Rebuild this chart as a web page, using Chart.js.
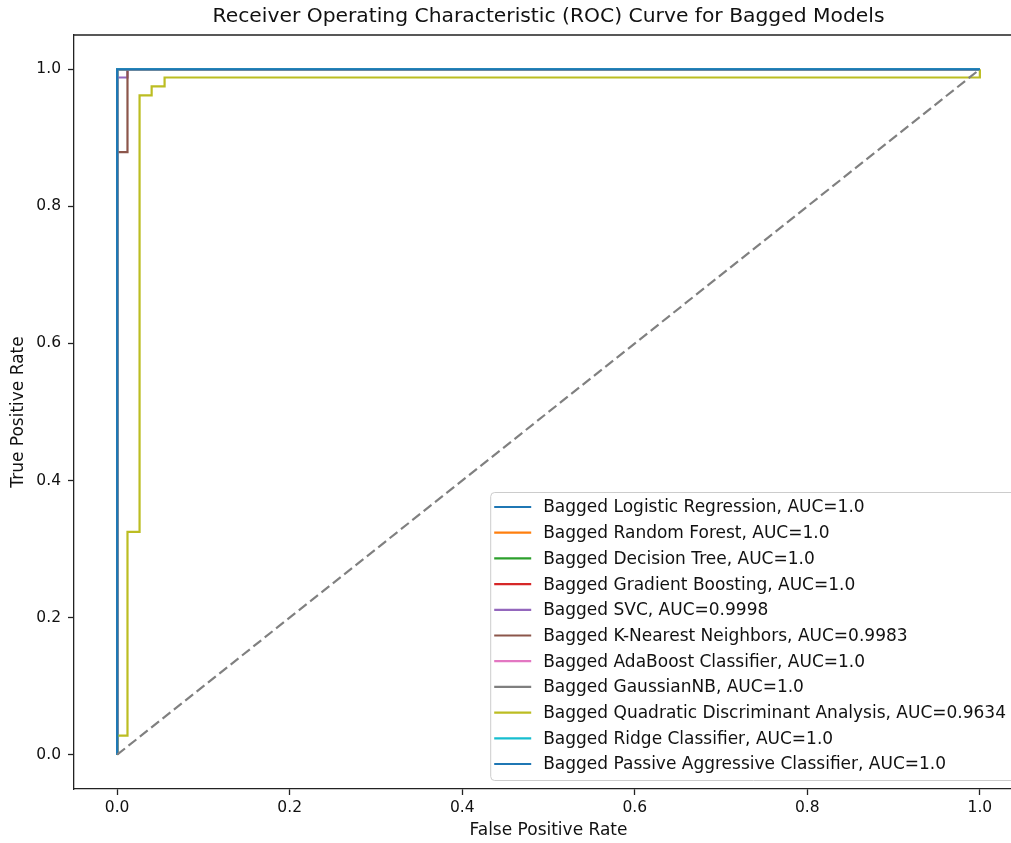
<!DOCTYPE html>
<html>
<head>
<meta charset="utf-8">
<title>ROC Curve for Bagged Models</title>
<script src="https://cdn.jsdelivr.net/npm/chart.js@4.4.0/dist/chart.umd.min.js"></script>
<style>
  html, body { margin: 0; padding: 0; background: #fff; overflow: hidden; }
  #roc { display: block; }
</style>
</head>
<body>
<canvas id="roc" width="1060" height="843"></canvas>
<script>
// ---------- data ----------
const chartTitle = 'Receiver Operating Characteristic (ROC) Curve for Bagged Models';
const xLabel = 'False Positive Rate';
const yLabel = 'True Positive Rate';

const modelNames = [
    'Bagged Logistic Regression',
    'Bagged Random Forest',
    'Bagged Decision Tree',
    'Bagged Gradient Boosting',
    'Bagged SVC',
    'Bagged K-Nearest Neighbors',
    'Bagged AdaBoost Classifier',
    'Bagged GaussianNB',
    'Bagged Quadratic Discriminant Analysis',
    'Bagged Ridge Classifier',
    'Bagged Passive Aggressive Classifier'
];
const aucValues = ['1.0', '1.0', '1.0', '1.0', '0.9998', '0.9983', '1.0', '1.0', '0.9634', '1.0', '1.0'];
const lineColors = ['#1f77b4', '#ff7f0e', '#2ca02c', '#d62728', '#9467bd', '#8c564b',
                    '#e377c2', '#7f7f7f', '#bcbd22', '#17becf', '#1f77b4'];

// ROC points (fpr, tpr)
const fprPerfect = [0, 0, 1];
const tprPerfect = [0, 1, 1];
const fprSvc = [0, 0, 0.012, 0.012, 1];
const tprSvc = [0, 0.988, 0.988, 1, 1];
const fprKnn = [0, 0, 0.012, 0.012, 1];
const tprKnn = [0, 0.879, 0.879, 1, 1];
const fprQda = [0, 0, 0.012, 0.012, 0.026, 0.026, 0.040, 0.040, 0.055, 0.055, 1, 1];
const tprQda = [0, 0.028, 0.028, 0.325, 0.325, 0.962, 0.962, 0.975, 0.975, 0.988, 0.988, 1];
// which curve belongs to which model
const modelCurves = [
    [fprPerfect, tprPerfect], [fprPerfect, tprPerfect], [fprPerfect, tprPerfect], [fprPerfect, tprPerfect],
    [fprSvc, tprSvc], [fprKnn, tprKnn], [fprPerfect, tprPerfect], [fprPerfect, tprPerfect],
    [fprQda, tprQda], [fprPerfect, tprPerfect], [fprPerfect, tprPerfect]
];
const diagX = [0, 1];
const diagY = [0, 1];

const xTickValues = [0, 0.2, 0.4, 0.6, 0.8, 1.0];
const yTickValues = [0, 0.2, 0.4, 0.6, 0.8, 1.0];

// ---------- build datasets ----------
function toPoints(xs, ys) {
    return xs.map((x, i) => ({ x: x, y: ys[i] }));
}

const datasets = modelNames.map((name, i) => ({
    label: name + ', AUC=' + aucValues[i],
    data: toPoints(modelCurves[i][0], modelCurves[i][1]),
    borderColor: lineColors[i],
    backgroundColor: lineColors[i],
    borderWidth: 2.2,
    showLine: true,
    pointRadius: 0,
    tension: 0,
    order: 100 - i   // matplotlib style: later lines on top
}));
datasets.push({
    label: '',
    data: toPoints(diagX, diagY),
    borderColor: '#808080',
    borderWidth: 2.2,
    borderDash: [10, 4.5],
    showLine: true,
    pointRadius: 0,
    order: 0,
    inLegend: false
});

// ---------- plugin: top/right frame, title, legend ----------
const FONT = '"DejaVu Sans", sans-serif';

const extras = {
    id: 'extras',
    afterDraw(chart) {
        const ctx = chart.ctx;
        const a = chart.chartArea;
        ctx.save();

        // top + right spines
        ctx.strokeStyle = '#222';
        ctx.lineWidth = 1.3;
        ctx.beginPath();
        ctx.moveTo(a.left, a.top);
        ctx.lineTo(a.right, a.top);
        ctx.lineTo(a.right, a.bottom);
        ctx.stroke();

        // title
        ctx.fillStyle = '#111';
        ctx.font = '20.3px ' + FONT;
        ctx.textAlign = 'center';
        ctx.textBaseline = 'middle';
        ctx.fillText(chartTitle, (a.left + a.right) / 2, 17);

        // legend box (lower right)
        const items = chart.data.datasets.filter(d => d.inLegend !== false);
        ctx.font = '17px ' + FONT;
        let maxW = 0;
        items.forEach(d => { maxW = Math.max(maxW, ctx.measureText(d.label).width); });
        const rowH = 25.7;
        const boxR = a.right - 7;
        const boxB = a.bottom - 9;
        const boxW = maxW + 54 + 9;
        const boxH = 15 + rowH * (items.length - 1) + 16;
        const boxL = boxR - boxW;
        const boxT = boxB - boxH;

        ctx.fillStyle = 'rgba(255,255,255,0.8)';
        ctx.strokeStyle = '#cccccc';
        ctx.lineWidth = 1;
        ctx.beginPath();
        ctx.roundRect(boxL + 0.5, boxT + 0.5, boxW, boxH, 4);
        ctx.fill();
        ctx.stroke();

        ctx.textAlign = 'left';
        items.forEach((d, i) => {
            const y = boxT + 15 + i * rowH;
            ctx.strokeStyle = d.borderColor;
            ctx.lineWidth = 2.2;
            ctx.beginPath();
            ctx.moveTo(boxL + 4, y);
            ctx.lineTo(boxL + 41, y);
            ctx.stroke();
            ctx.fillStyle = '#111';
            ctx.fillText(d.label, boxL + 53, y + 1);
        });

        ctx.restore();
    }
};

// ---------- chart ----------
const tickFont = { family: FONT, size: 15.5 };
const labelFont = { family: FONT, size: 17 };

new Chart(document.getElementById('roc'), {
    type: 'scatter',
    data: { datasets: datasets },
    options: {
        responsive: false,
        animation: false,
        layout: { padding: { top: 35, right: 37, bottom: 0, left: 0 } },
        plugins: {
            legend: { display: false },
            tooltip: { enabled: false },
            title: { display: false }
        },
        scales: {
            x: {
                type: 'linear',
                min: -0.05,
                max: 1.05,
                afterBuildTicks: s => { s.ticks = xTickValues.map(v => ({ value: v })); },
                afterFit: s => { s.height = 54; },
                ticks: {
                    callback: v => v.toFixed(1),
                    font: tickFont,
                    color: '#111',
                    padding: 4,
                    maxRotation: 0
                },
                grid: { drawOnChartArea: false, tickLength: 6, tickColor: '#222', tickWidth: 1.3 },
                border: { display: true, color: '#222', width: 1.3 },
                title: { display: true, text: xLabel, font: labelFont, color: '#111', padding: { top: 0, bottom: 2 } }
            },
            y: {
                type: 'linear',
                min: -0.05,
                max: 1.05,
                afterBuildTicks: s => { s.ticks = yTickValues.map(v => ({ value: v })); },
                afterFit: s => { s.width = 74; },
                ticks: {
                    callback: v => v.toFixed(1),
                    font: tickFont,
                    color: '#111',
                    padding: 7
                },
                grid: { drawOnChartArea: false, tickLength: 6, tickColor: '#222', tickWidth: 1.3 },
                border: { display: true, color: '#222', width: 1.3 },
                title: { display: true, text: yLabel, font: labelFont, color: '#111', padding: { top: 8, bottom: 0 } }
            }
        }
    },
    plugins: [extras]
});
</script>
</body>
</html>
